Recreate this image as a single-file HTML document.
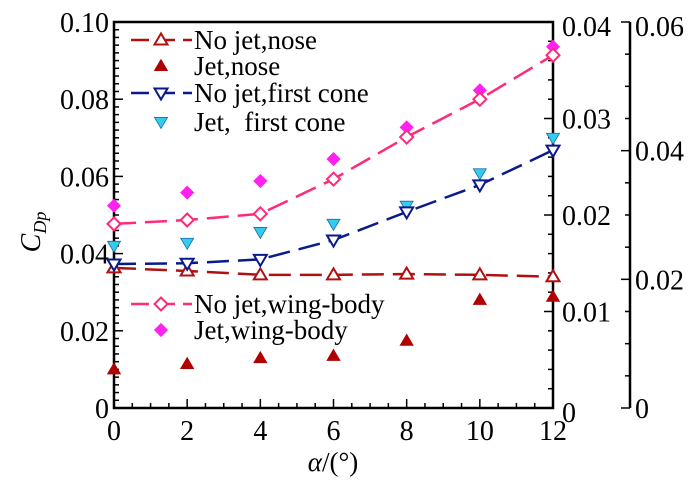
<!DOCTYPE html>
<html><head><meta charset="utf-8">
<style>
html,body{margin:0;padding:0;background:#fff;}
svg, svg text{font-family:"Liberation Serif","Times New Roman","DejaVu Serif",serif;}
</style></head>
<body>
<svg id="chart" width="700" height="484" viewBox="0 0 700 484" xmlns="http://www.w3.org/2000/svg" font-family="Liberation Serif, DejaVu Serif, serif">
<g id="axes"></g>
<g id="series"></g>
<g id="legend"></g>
<text font-family="Liberation Serif, serif" transform="translate(40,232) rotate(-90)" font-size="28" font-style="italic" text-anchor="middle">C<tspan font-size="18" dy="6">Dp</tspan></text>
<text font-family="Liberation Serif, serif" x="333" y="471" font-size="27" text-anchor="middle"><tspan font-style="italic">α</tspan>/(°)</text>
</svg>
<script>
const alphas = [0, 2, 4, 6, 8, 10, 12];
const noJetNose = [0.0363, 0.0355, 0.0345, 0.0345, 0.0347, 0.0345, 0.0340];
const jetNose = [0.0100, 0.0114, 0.0129, 0.0135, 0.0174, 0.0280, 0.0288];
const noJetCone = [0.0373, 0.0375, 0.0385, 0.0435, 0.0508, 0.0578, 0.0668];
const jetCone = [0.0420, 0.0428, 0.0456, 0.0477, 0.0524, 0.0608, 0.0700];
const noJetWing = [0.0477, 0.0487, 0.0503, 0.0593, 0.0702, 0.0800, 0.0914];
const jetWing = [0.0524, 0.0558, 0.0588, 0.0645, 0.0727, 0.0823, 0.0936];
const xTicks = [0, 2, 4, 6, 8, 10, 12];
const yTicks = [0, 0.02, 0.04, 0.06, 0.08, 0.10];
const yTickLabels = ["0", "0.02", "0.04", "0.06", "0.08", "0.10"];
const y2Ticks = [0, 0.01, 0.02, 0.03, 0.04];
const y2TickLabels = ["0", "0.01", "0.02", "0.03", "0.04"];
const y3Ticks = [0, 0.02, 0.04, 0.06];
const y3TickLabels = ["0", "0.02", "0.04", "0.06"];

const L = 114, R = 553, T = 22, B = 408, R2 = 630;
const FONT = 'Liberation Serif, Times New Roman, DejaVu Serif, serif';
const xs = v => L + (v - 0) / 12 * (R - L);
const ys = v => B - v / 0.10 * (B - T);
const ys2 = v => B - v / 0.04 * (B - T);
const ys3 = v => B - v / 0.06 * (B - T);
const NS = "http://www.w3.org/2000/svg";
function mk(tag, attrs, parent) {
  const e = document.createElementNS(NS, tag);
  for (const k in attrs) e.setAttribute(k, attrs[k]);
  if (tag === 'text') e.setAttribute('font-family', FONT);
  parent.appendChild(e);
  return e;
}
const ax = document.getElementById('axes');
const se = document.getElementById('series');
const lg = document.getElementById('legend');

let fr = mk('rect', {x: L, y: T, width: R - L, height: B - T, fill: 'none', stroke: '#000', 'stroke-width': 2.5}, ax);


let a3 = mk('line', {x1: R2, y1: T, x2: R2, y2: B, stroke: '#000', 'stroke-width': 2.5}, ax);



for (let v = 0; v <= 12.001; v += 0.5) {
  const major = Math.abs(v - Math.round(v / 2) * 2) < 1e-6;
  mk('line', {x1: xs(v), y1: B, x2: xs(v), y2: B - (major ? 9 : 5), stroke: '#000', 'stroke-width': 1.5}, ax);
}
xTicks.forEach(v => {
  const t = mk('text', {x: xs(v), y: B + 32, 'font-size': 28, 'text-anchor': 'middle'}, ax);
  t.textContent = v;
  
  
});
for (let v = 0; v <= 0.1001; v += 0.002) {
  const major = Math.abs(v / 0.02 - Math.round(v / 0.02)) < 1e-6;
  mk('line', {x1: L, y1: ys(v), x2: L + (major ? 9 : 5), y2: ys(v), stroke: '#000', 'stroke-width': 1.5}, ax);
}
yTicks.forEach((v, i) => {
  const t = mk('text', {x: L - 5, y: ys(v) + 10, 'font-size': 28, 'text-anchor': 'end'}, ax);
  t.textContent = yTickLabels[i];
  
  
});
for (let v = 0; v <= 0.04001; v += 0.002) {
  const major = Math.abs(v / 0.01 - Math.round(v / 0.01)) < 1e-6;
  mk('line', {x1: R, y1: ys2(v), x2: R - (major ? 9 : 5), y2: ys2(v), stroke: '#000', 'stroke-width': 1.5}, ax);
}
y2Ticks.forEach((v, i) => {
  const t = mk('text', {x: R + 9, y: ys2(v) + 10 + (i === 0 ? 4 : 0) + (i === 4 ? 4 : 0), 'font-size': 28}, ax);
  t.textContent = y2TickLabels[i];
  
  
});
for (let v = 0; v <= 0.06001; v += 0.005) {
  const major = Math.abs(v / 0.02 - Math.round(v / 0.02)) < 1e-6;
  mk('line', {x1: R2, y1: ys3(v), x2: R2 - (major ? 9 : 5), y2: ys3(v), stroke: '#000', 'stroke-width': 1.5}, ax);
}
y3Ticks.forEach((v, i) => {
  const t = mk('text', {x: R2 + 5, y: ys3(v) + 10 + (i === 3 ? 4 : 0), 'font-size': 28}, ax);
  t.textContent = y3TickLabels[i];
  
  
});

function marker(type, cx, cy, col, fill, parent) {
  const s = 6.5;
  let pts;
  if (type === 'up') pts = [[cx, cy - s], [cx - s, cy + s * 0.7], [cx + s, cy + s * 0.7]];
  else if (type === 'down') pts = [[cx, cy + s], [cx - s, cy - s * 0.7], [cx + s, cy - s * 0.7]];
  else pts = [[cx, cy - s], [cx + s, cy], [cx, cy + s], [cx - s, cy]];
  return mk('polygon', {points: pts.map(p => p.join(',')).join(' '), fill: fill ? col : '#fff', stroke: fill ? (type==='down'?'#1a6aa8':col) : col, 'stroke-width': fill ? 0.8 : 2}, parent);
}
function lineSeries(name, data, col, type) {
  const g = mk('g', {}, se);
  
  
  const d = data.map((v, i) => (i ? 'L' : 'M') + xs(alphas[i]) + ',' + ys(v)).join(' ');
  mk('path', {d: d, fill: 'none', stroke: col, 'stroke-width': 2.5, 'stroke-dasharray': '22,9'}, g);
  data.forEach((v, i) => {
    const m = marker(type, xs(alphas[i]), ys(v), col, false, g);
    
    
  });
}
function scatter(name, data, col, type) {
  const g = mk('g', {}, se);
  
  
  data.forEach((v, i) => {
    const m = marker(type, xs(alphas[i]), ys(v), col, true, g);
    
    
  });
}
scatter('jet-nose-series', jetNose, '#b00000', 'up');
scatter('jet-cone-series', jetCone, '#33ccee', 'down');
scatter('jet-wing-series', jetWing, '#ff22ee', 'diamond');
lineSeries('no-jet-nose-series', noJetNose, '#b01010', 'up');
lineSeries('no-jet-cone-series', noJetCone, '#0a1a8a', 'down');
lineSeries('no-jet-wing-series', noJetWing, '#ff2a7a', 'diamond');

const legendItems = [
  ['No jet,nose', '#b01010', 'up', false, 40],
  ['Jet,nose', '#b00000', 'up', true, 66],
  ['No jet,first cone', '#0a1a8a', 'down', false, 93],
  ['Jet,  first cone', '#33ccee', 'down', true, 122],
  ['No jet,wing-body', '#ff2a7a', 'diamond', false, 304],
  ['Jet,wing-body', '#ff22ee', 'diamond', true, 330]
];
legendItems.forEach(it => {
  const g = mk('g', {}, lg);
  
  
  if (!it[3]) mk('line', {x1: 131, y1: it[4], x2: 192, y2: it[4], stroke: it[1], 'stroke-width': 2.5, 'stroke-dasharray': '18,8'}, g);
  marker(it[2], 161, it[4], it[1], it[3], g);
  const t = mk('text', {x: 194, y: it[4] + 9, 'font-size': 27, 'xml:space': 'preserve'}, g);
  t.setAttribute('style', 'white-space:pre');
  t.textContent = it[0];
});
</script>
</body></html>
